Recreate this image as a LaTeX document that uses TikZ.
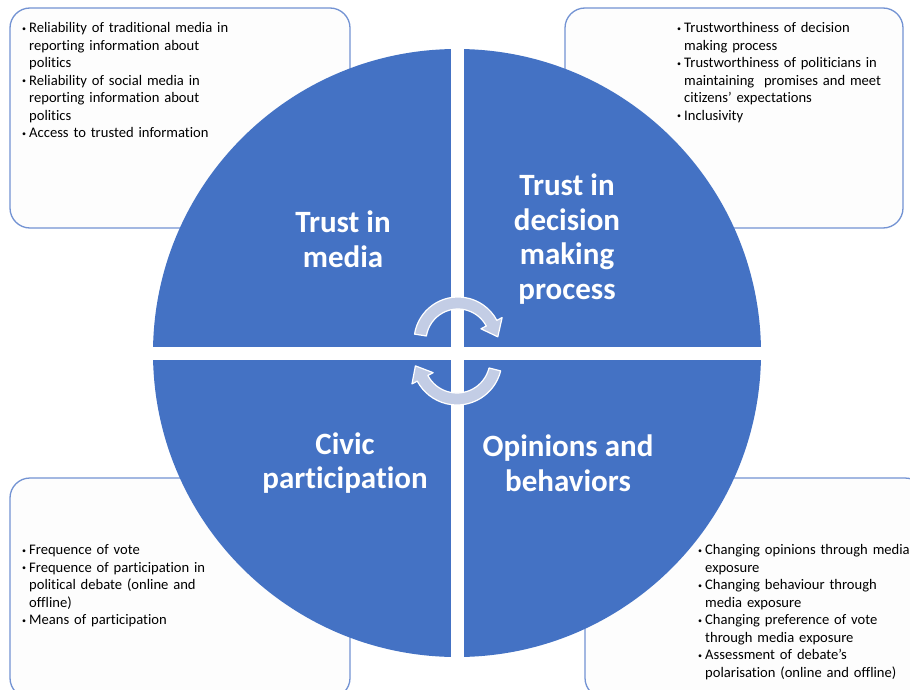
\documentclass[tikz,border=0pt]{standalone}
\usepackage{fontspec}
\setmainfont{Carlito}[Ligatures=NoCommon]
\usetikzlibrary{calc}

\definecolor{wheelblue}{HTML}{4472C4}
\definecolor{boxline}{HTML}{7393D3}
\definecolor{boxfill}{HTML}{FDFDFD}
\definecolor{cyclefill}{HTML}{C3CDE5}

% one bullet line, wrapped lines hang under the text
\newcommand{\pitem}[1]{\par\hangindent=7pt\hangafter=1\noindent\makebox[7pt][l]{\raisebox{1.4pt}{\footnotesize\textbullet}}#1\par}

\tikzset{
  infobox/.style={draw=boxline, line width=1.3pt, fill=boxfill, rounded corners=20pt},
  infotext/.style={anchor=north west, inner sep=0pt, text width=330pt, align=left,
    font=\fontsize{14.6}{17.5}\selectfont},
  sector/.style={text=white, align=center, inner sep=0pt,
    font=\fontsize{31}{34.5}\selectfont\bfseries},
  cyclearrow/.style={fill=cyclefill, draw=white, line width=1.2pt, line join=round}
}

\begin{document}
\begin{tikzpicture}[x=1pt, y=-1pt]
	\useasboundingbox (0,0) rectangle (910,690);
	\clip (0,0) rectangle (910,690);
	\fill[white] (0,0) rectangle (910,690);

	% corner boxes behind the wheel
	\draw[infobox] (10,8) rectangle (350,228);
	\draw[infobox] (565,8) rectangle (903,228);
	\draw[infobox] (10,478) rectangle (350,698);
	\draw[infobox] (585,478) rectangle (925,698);

	\node[infotext] (medialist) at (22,15) {%
		\pitem{Reliability of traditional media in\newline reporting information about\newline politics}
		\pitem{Reliability of social media in\newline reporting information about\newline politics}
		\pitem{Access to trusted information}};
	\node[infotext] (decisionlist) at (677,15) {%
		\pitem{Trustworthiness of decision\newline making process}
		\pitem{Trustworthiness of politicians in\newline maintaining\ \ promises and meet\newline citizens’ expectations}
		\pitem{Inclusivity}};
	\node[infotext] (civiclist) at (22,537) {%
		\pitem{Frequence of vote}
		\pitem{Frequence of participation in\newline political debate (online and\newline offline)}
		\pitem{Means of participation}};
	\node[infotext] (opinionlist) at (698,537) {%
		\pitem{Changing opinions through media\newline exposure}
		\pitem{Changing behaviour through\newline media exposure}
		\pitem{Changing preference of vote\newline through media exposure}
		\pitem{Assessment of debate’s\newline polarisation (online and offline)}};

	% the wheel, cut in four
	\coordinate (c) at (457,353);
	\fill[wheelblue] (c) circle[radius=304];
	\fill[white] ($(c)+(-6.5,-306)$) rectangle ($(c)+(6.5,306)$);
	\fill[white] ($(c)+(-306,-6.5)$) rectangle ($(c)+(306,6.5)$);

	% turning arrows in the middle
	\coordinate (c1) at (458,341);
	\coordinate (c2) at (457,360);
	\draw[cyclearrow] ($(c1)+(189:44)$) arc[start angle=189, end angle=332, radius=44]
		-- ($(c1)+(332:50)$) -- ($(c1)+(354:40)$) -- ($(c1)+(332:26)$)
		-- ($(c1)+(332:32)$) arc[start angle=332, end angle=189, radius=32] -- cycle;
	\draw[cyclearrow] ($(c2)+(14:45)$) arc[start angle=14, end angle=152, radius=45]
		-- ($(c2)+(152:51)$) -- ($(c2)+(172:42)$) -- ($(c2)+(152:27)$)
		-- ($(c2)+(152:33)$) arc[start angle=152, end angle=14, radius=33] -- cycle;

	\node[sector] (media) at (343,239) {Trust in\\media};
	\node[sector] (decision) at (567,239) {Trust in\\decision\\making\\process};
	\node[sector] (civic) at (345,463) {Civic\\participation};
	\node[sector] (opinions) at (568,463) {Opinions and\\behaviors};
\end{tikzpicture}
\end{document}
